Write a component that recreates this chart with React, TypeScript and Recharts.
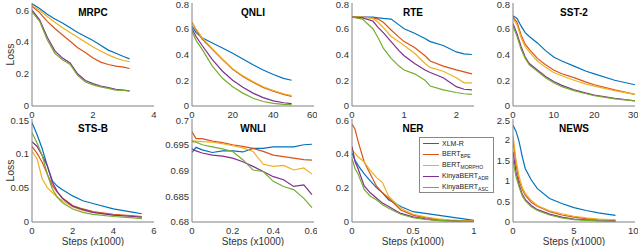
import { Label, Line, LineChart, XAxis, YAxis } from "recharts"

// series in legend / draw order
const seriesKeys = ["xlmr", "bpe", "morpho", "adr", "asc"]
const seriesColors = ["#0072BD", "#D95319", "#EDB120", "#7E2F8E", "#77AC30"]
const seriesNames = ["XLM-R", "BERT", "BERT", "KinyaBERT", "KinyaBERT"]
const seriesSubs = ["", "BPE", "MORPHO", "ADR", "ASC"]

// MRPC
const mrpcSteps = [0, 0.25, 0.5, 0.75, 1, 1.25, 1.5, 1.75, 2, 2.25, 2.5, 2.75, 3, 3.2]
const mrpcLoss = [
  [0.64, 0.61, 0.575, 0.545, 0.52, 0.49, 0.46, 0.435, 0.41, 0.38, 0.35, 0.33, 0.31, 0.295],
  [0.625, 0.585, 0.53, 0.485, 0.445, 0.405, 0.365, 0.335, 0.3, 0.275, 0.26, 0.25, 0.243, 0.235],
  [0.63, 0.6, 0.56, 0.525, 0.49, 0.46, 0.43, 0.4, 0.37, 0.345, 0.32, 0.3, 0.285, 0.278],
  [0.6, 0.54, 0.43, 0.345, 0.3, 0.27, 0.2, 0.16, 0.14, 0.125, 0.115, 0.105, 0.1, 0.095],
  [0.59, 0.53, 0.415, 0.33, 0.29, 0.26, 0.19, 0.15, 0.132, 0.12, 0.11, 0.1, 0.097, 0.094],
]

// QNLI
const qnliSteps = [0, 2, 5, 10, 15, 20, 25, 30, 35, 40, 45, 49]
const qnliLoss = [
  [0.62, 0.57, 0.53, 0.49, 0.45, 0.41, 0.365, 0.32, 0.28, 0.245, 0.215, 0.2],
  [0.65, 0.59, 0.52, 0.44, 0.36, 0.285, 0.23, 0.185, 0.145, 0.115, 0.09, 0.075],
  [0.65, 0.6, 0.53, 0.445, 0.365, 0.29, 0.235, 0.19, 0.15, 0.12, 0.095, 0.08],
  [0.6, 0.54, 0.47, 0.36, 0.27, 0.2, 0.145, 0.1, 0.065, 0.04, 0.025, 0.018],
  [0.58, 0.51, 0.44, 0.31, 0.215, 0.15, 0.1, 0.06, 0.035, 0.02, 0.012, 0.01],
]

// RTE
const rteSteps = [0, 0.2, 0.4, 0.5, 0.6, 0.75, 0.9, 1, 1.2, 1.4, 1.5, 1.75, 2, 2.15, 2.3]
const rteLoss = [
  [0.69, 0.69, 0.69, 0.685, 0.68, 0.675, 0.63, 0.6, 0.565, 0.525, 0.5, 0.47, 0.42, 0.405, 0.4],
  [0.69, 0.69, 0.685, 0.675, 0.65, 0.59, 0.535, 0.5, 0.455, 0.39, 0.35, 0.31, 0.28, 0.265, 0.25],
  [0.69, 0.69, 0.68, 0.65, 0.61, 0.54, 0.5, 0.47, 0.41, 0.33, 0.3, 0.27, 0.22, 0.18, 0.18],
  [0.69, 0.685, 0.66, 0.61, 0.57, 0.5, 0.43, 0.39, 0.33, 0.28, 0.26, 0.22, 0.15, 0.13, 0.125],
  [0.69, 0.675, 0.6, 0.53, 0.45, 0.37, 0.31, 0.28, 0.25, 0.2, 0.155, 0.125, 0.105, 0.095, 0.09],
]

// SST-2
const sstSteps = [0, 1, 2, 3, 4, 6, 8, 10, 12, 15, 18, 20, 25, 30]
const sstLoss = [
  [0.7, 0.68, 0.62, 0.57, 0.54, 0.49, 0.43, 0.38, 0.35, 0.31, 0.27, 0.25, 0.2, 0.165],
  [0.69, 0.65, 0.55, 0.48, 0.44, 0.37, 0.32, 0.28, 0.25, 0.22, 0.185, 0.165, 0.125, 0.09],
  [0.68, 0.63, 0.53, 0.46, 0.42, 0.35, 0.3, 0.26, 0.235, 0.2, 0.17, 0.155, 0.12, 0.09],
  [0.64, 0.56, 0.46, 0.38, 0.33, 0.28, 0.23, 0.19, 0.16, 0.125, 0.1, 0.085, 0.06, 0.04],
  [0.62, 0.54, 0.44, 0.37, 0.32, 0.27, 0.22, 0.18, 0.15, 0.12, 0.095, 0.08, 0.055, 0.04],
]

// STS-B
const stsSteps = [0, 0.25, 0.5, 0.75, 1, 1.25, 1.5, 2, 2.5, 3, 4, 5, 5.4]
const stsLoss = [
  [0.145, 0.127, 0.107, 0.082, 0.06, 0.052, 0.047, 0.038, 0.031, 0.027, 0.019, 0.014, 0.012],
  [0.11, 0.1, 0.087, 0.07, 0.053, 0.043, 0.035, 0.024, 0.019, 0.015, 0.011, 0.009, 0.008],
  [0.103, 0.092, 0.063, 0.05, 0.043, 0.036, 0.031, 0.022, 0.017, 0.014, 0.01, 0.008, 0.007],
  [0.117, 0.11, 0.097, 0.082, 0.058, 0.044, 0.034, 0.023, 0.018, 0.014, 0.01, 0.008, 0.007],
  [0.13, 0.115, 0.097, 0.07, 0.048, 0.036, 0.028, 0.019, 0.014, 0.011, 0.008, 0.006, 0.005],
]

// WNLI
const wnliSteps = [0, 0.02, 0.05, 0.1, 0.15, 0.2, 0.25, 0.3, 0.35, 0.4, 0.45, 0.5, 0.55, 0.59]
const wnliLoss = [
  [0.6935, 0.6945, 0.694, 0.6935, 0.6938, 0.6938, 0.6936, 0.6943, 0.6943, 0.6946, 0.6946, 0.6946, 0.695, 0.6951],
  [0.6975, 0.6962, 0.6962, 0.6957, 0.6954, 0.695, 0.6947, 0.6943, 0.6937, 0.693, 0.6927, 0.6924, 0.6921, 0.692],
  [0.6958, 0.6957, 0.6956, 0.6955, 0.6952, 0.6948, 0.6944, 0.6937, 0.6912, 0.6908, 0.691, 0.6901, 0.6905, 0.6893],
  [0.6942, 0.6938, 0.6934, 0.693, 0.6928, 0.6924, 0.6917, 0.6908, 0.6898, 0.6888, 0.6882, 0.6869, 0.6872, 0.6853],
  [0.6956, 0.6955, 0.695, 0.6946, 0.6942, 0.6937, 0.6921, 0.6901, 0.6898, 0.6879, 0.6869, 0.6863, 0.6846, 0.6828],
]

// NER
const nerSteps = [0, 0.025, 0.05, 0.1, 0.15, 0.2, 0.25, 0.3, 0.4, 0.5, 0.6, 0.7, 0.8, 0.9, 1]
const nerLoss = [
  [0.4, 0.36, 0.33, 0.28, 0.24, 0.2, 0.17, 0.13, 0.09, 0.06, 0.05, 0.04, 0.03, 0.02, 0.01],
  [0.57, 0.54, 0.47, 0.35, 0.28, 0.21, 0.17, 0.14, 0.07, 0.04, 0.025, 0.015, 0.01, 0.007, 0.005],
  [0.42, 0.4, 0.38, 0.35, 0.3, 0.26, 0.23, 0.15, 0.08, 0.045, 0.03, 0.018, 0.012, 0.008, 0.005],
  [0.44, 0.35, 0.31, 0.21, 0.17, 0.14, 0.11, 0.09, 0.05, 0.03, 0.018, 0.01, 0.006, 0.004, 0.003],
  [0.37, 0.31, 0.28, 0.19, 0.15, 0.13, 0.1, 0.08, 0.045, 0.025, 0.015, 0.01, 0.006, 0.004, 0.003],
]

// NEWS
const newsSteps = [0, 0.25, 0.5, 0.75, 1, 1.5, 2, 3, 4, 5, 6, 7, 8.4]
const newsLoss = [
  [2.35, 2.2, 1.95, 1.6, 1.3, 1.02, 0.81, 0.57, 0.45, 0.35, 0.28, 0.22, 0.16],
  [2.0, 1.4, 1.0, 0.8, 0.65, 0.48, 0.38, 0.25, 0.17, 0.12, 0.08, 0.06, 0.04],
  [2.1, 1.5, 1.1, 0.85, 0.7, 0.52, 0.4, 0.27, 0.2, 0.14, 0.1, 0.07, 0.05],
  [1.7, 1.2, 0.9, 0.68, 0.55, 0.4, 0.3, 0.19, 0.12, 0.07, 0.05, 0.03, 0.02],
  [1.5, 1.1, 0.85, 0.64, 0.52, 0.37, 0.28, 0.17, 0.1, 0.06, 0.04, 0.025, 0.015],
]

const font = "'Liberation Sans', Arial, sans-serif"
const axisColor = "#808080"
const tickColor = "#333"
const boxW = 122
const boxH = 103
const yAxisW = 32

type PanelProps = {
  title: string
  steps: number[]
  loss: number[][]
  xDomain: number[]
  xTicks: number[]
  yDomain: number[]
  yTicks: number[]
  boxLeft: number
  boxTop: number
  showLoss?: boolean
  showSteps?: boolean
}

function Panel({ title, steps, loss, xDomain, xTicks, yDomain, yTicks, boxLeft, boxTop, showLoss, showSteps }: PanelProps) {
  const data = steps.map((s, i) => {
    const row: Record<string, number> = { step: s }
    seriesKeys.forEach((k, j) => (row[k] = loss[j][i]))
    return row
  })
  const xAxisH = showSteps ? 28 : 14
  return (
    <div style={{ position: "absolute", left: boxLeft - yAxisW, top: boxTop - 3 }}>
      <LineChart width={yAxisW + boxW + 3} height={3 + boxH + xAxisH} data={data}
        margin={{ top: 3, right: 3, bottom: 0, left: 0 }}>
        <XAxis dataKey="step" type="number" domain={xDomain} ticks={xTicks} allowDataOverflow
          height={xAxisH} stroke={axisColor} tickLine={false} tickSize={3} tickMargin={2}
          tick={{ fill: tickColor, fontSize: 9.5, fontFamily: font }}>
          {showSteps && (
            <Label value="Steps (x1000)" position="insideBottom" offset={5}
              style={{ fill: tickColor, fontSize: 10, fontFamily: font }} />
          )}
        </XAxis>
        <XAxis xAxisId="top" orientation="top" dataKey="step" type="number" domain={xDomain}
          allowDataOverflow height={0} stroke={axisColor} tick={false} tickLine={false} />
        <YAxis type="number" domain={yDomain} ticks={yTicks} allowDataOverflow width={yAxisW}
          stroke={axisColor} tickLine={false} tickSize={3} tickMargin={0}
          tick={{ fill: tickColor, fontSize: 9.5, fontFamily: font }}>
          {showLoss && (
            <Label value="Loss" angle={-90} position="center" dx={-6}
              style={{ fill: tickColor, fontSize: 10.5, fontFamily: font }} />
          )}
        </YAxis>
        <YAxis yAxisId="right" orientation="right" type="number" domain={yDomain} allowDataOverflow
          width={0} stroke={axisColor} tick={false} tickLine={false} />
        {seriesKeys.map((k, j) => (
          <Line key={k} dataKey={k} stroke={seriesColors[j]} strokeWidth={1.2} dot={false}
            type="linear" isAnimationActive={false} />
        ))}
      </LineChart>
      <div style={{
        position: "absolute", left: yAxisW, top: 3 + 4, width: boxW, textAlign: "center",
        fontFamily: font, fontWeight: "bold", fontSize: 10, lineHeight: "12px", color: "#000",
      }}>{title}</div>
    </div>
  )
}

function LegendBox() {
  return (
    <div style={{
      position: "absolute", left: 419, top: 137, width: 75, height: 56, background: "#fff",
      border: "1px solid #888", boxSizing: "border-box", fontFamily: font, fontSize: 7, color: "#222",
    }}>
      {seriesKeys.map((k, j) => (
        <div key={k} style={{ display: "flex", alignItems: "center", height: 11 }}>
          <div style={{ marginLeft: 3, width: 16, height: 0, borderTop: `1.3px solid ${seriesColors[j]}` }} />
          <span style={{ marginLeft: 3, whiteSpace: "nowrap" }}>
            {seriesNames[j]}
            {seriesSubs[j] && <sub style={{ fontSize: 5, verticalAlign: "-2px" }}>{seriesSubs[j]}</sub>}
          </span>
        </div>
      ))}
    </div>
  )
}

export default function App() {
  const cols = [32, 192, 352, 513]
  const topRow = 3
  const bottomRow = 119
  return (
    <div style={{ position: "absolute", left: 0, top: 0, width: 640, height: 246, overflow: "hidden", background: "#fff" }}>
      <Panel title="MRPC" steps={mrpcSteps} loss={mrpcLoss} xDomain={[0, 4]} xTicks={[0, 2, 4]}
        yDomain={[0, 0.645]} yTicks={[0, 0.2, 0.4, 0.6]} boxLeft={cols[0]} boxTop={topRow} showLoss />
      <Panel title="QNLI" steps={qnliSteps} loss={qnliLoss} xDomain={[0, 60]} xTicks={[0, 20, 40, 60]}
        yDomain={[0, 0.8]} yTicks={[0, 0.2, 0.4, 0.6, 0.8]} boxLeft={cols[1]} boxTop={topRow} />
      <Panel title="RTE" steps={rteSteps} loss={rteLoss} xDomain={[0, 2.34]} xTicks={[0, 1, 2]}
        yDomain={[0, 0.8]} yTicks={[0, 0.2, 0.4, 0.6, 0.8]} boxLeft={cols[2]} boxTop={topRow} />
      <Panel title="SST-2" steps={sstSteps} loss={sstLoss} xDomain={[0, 30]} xTicks={[0, 10, 20, 30]}
        yDomain={[0, 0.8]} yTicks={[0, 0.2, 0.4, 0.6, 0.8]} boxLeft={cols[3]} boxTop={topRow} />
      <Panel title="STS-B" steps={stsSteps} loss={stsLoss} xDomain={[0, 6]} xTicks={[0, 2, 4, 6]}
        yDomain={[0, 0.15]} yTicks={[0, 0.05, 0.1, 0.15]} boxLeft={cols[0]} boxTop={bottomRow} showLoss showSteps />
      <Panel title="WNLI" steps={wnliSteps} loss={wnliLoss} xDomain={[0, 0.6]} xTicks={[0, 0.2, 0.4, 0.6]}
        yDomain={[0.68, 0.7]} yTicks={[0.68, 0.685, 0.69, 0.695, 0.7]} boxLeft={cols[1]} boxTop={bottomRow} showSteps />
      <Panel title="NER" steps={nerSteps} loss={nerLoss} xDomain={[0, 1]} xTicks={[0, 0.5, 1]}
        yDomain={[0, 0.6]} yTicks={[0, 0.2, 0.4, 0.6]} boxLeft={cols[2]} boxTop={bottomRow} showSteps />
      <Panel title="NEWS" steps={newsSteps} loss={newsLoss} xDomain={[0, 10]} xTicks={[0, 5, 10]}
        yDomain={[0, 2.5]} yTicks={[0, 0.5, 1, 1.5, 2, 2.5]} boxLeft={cols[3]} boxTop={bottomRow} showSteps />
      <LegendBox />
    </div>
  )
}
